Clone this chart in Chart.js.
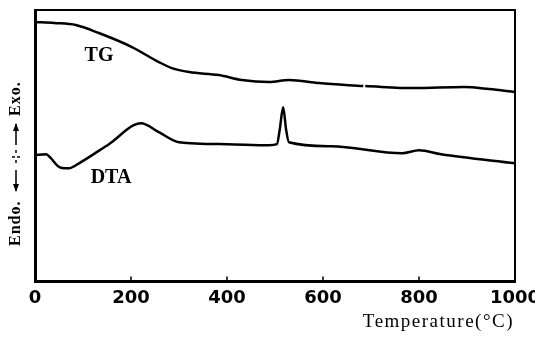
<!DOCTYPE html>
<html>
<head>
<meta charset="utf-8">
<script src="https://cdn.jsdelivr.net/npm/chart.js@4/dist/chart.umd.min.js"></script>
<style>
  html, body { margin: 0; padding: 0; background: #fff; }
  #wrap { width: 535px; height: 338px; }
</style>
</head>
<body>
<div id="wrap"><canvas id="c" width="535" height="338"></canvas></div>
<script>
// --- DATA (signal in arbitrary units) ---
const tgTemp   = [0, 40, 85, 133, 202, 258, 285, 321, 383, 431, 488, 529, 592, 684, 686, 688, 790, 894, 946, 1000];
const tgSignal = [257, 256, 254, 246, 232, 217, 211, 207, 204, 199, 197, 199, 196, 193, null, 193, 191, 192, 190, 187];

const dtaTemp   = [0, 23, 33, 48, 60, 72, 85, 154, 221, 258, 300, 400, 488, 504, 510, 517, 523, 529, 617, 765, 800, 846, 1000];
const dtaSignal = [124, 125, 121, 113, 111, 111, 114, 135, 156, 147, 137, 135, 134, 135, 150, 172, 150, 137, 133, 126, 129, 125, 116];

const xTicks = [0, 200, 400, 600, 800, 1000];

const toPoints = (xs, ys) => xs.map((x, i) => ({ x: x, y: ys[i] }));

// --- extra drawing: frame, inward ticks, curve labels, axis texts ---
const decor = {
    id: 'decor',
    afterDraw(chart) {
        const ctx = chart.ctx;
        const a = chart.chartArea;
        const xs = chart.scales.x;
        ctx.save();
        ctx.strokeStyle = '#000';

        // top + right frame
        ctx.lineWidth = 2;
        ctx.beginPath();
        ctx.moveTo(a.left, a.top);
        ctx.lineTo(a.right, a.top);
        ctx.lineTo(a.right, a.bottom);
        ctx.stroke();

        // inward ticks on bottom axis
        ctx.lineWidth = 1.5;
        xTicks.slice(1, -1).forEach(v => {
            const px = xs.getPixelForValue(v);
            ctx.beginPath();
            ctx.moveTo(px, a.bottom);
            ctx.lineTo(px, a.bottom - 5);
            ctx.stroke();
        });

        // curve labels
        ctx.fillStyle = '#000';
        ctx.font = 'bold 20px "Liberation Serif"';
        ctx.textAlign = 'center';
        ctx.textBaseline = 'middle';
        ctx.fillText('TG', 99, 56);
        ctx.fillText('DTA', 111, 178);

        // x title
        ctx.font = '19px "Liberation Serif"';
        ctx.letterSpacing = '1.5px';
        ctx.textAlign = 'right';
        ctx.fillText('Temperature(°C)', 514, 322);
        ctx.letterSpacing = '0px';

        // left Endo / Exo label
        ctx.translate(16, 165);
        ctx.rotate(-Math.PI / 2);
        ctx.font = 'bold 16px "Liberation Serif"';
        ctx.letterSpacing = '1px';
        ctx.textAlign = 'left';
        ctx.fillText('Endo.', -81, 0);
        ctx.fillText('Exo.', 49, 0);
        ctx.letterSpacing = '0px';
        ctx.lineWidth = 1.5;
        ctx.beginPath();
        ctx.moveTo(-26, 0); ctx.lineTo(-5, 0);
        ctx.moveTo(2, 0); ctx.lineTo(5, 0);
        ctx.moveTo(12, 0); ctx.lineTo(15, 0);
        ctx.moveTo(20, 0); ctx.lineTo(41, 0);
        ctx.moveTo(8, -4); ctx.lineTo(8, -1);
        ctx.moveTo(8, 1); ctx.lineTo(8, 4);
        ctx.stroke();
        ctx.beginPath();
        ctx.moveTo(-27, 0); ctx.lineTo(-19, -3); ctx.lineTo(-19, 3); ctx.closePath();
        ctx.moveTo(42, 0); ctx.lineTo(34, -3); ctx.lineTo(34, 3); ctx.closePath();
        ctx.fill();
        ctx.restore();
    }
};

const lineStyle = {
    borderColor: '#000',
    borderWidth: 2.5,
    pointRadius: 0,
    fill: false,
    cubicInterpolationMode: 'monotone',
    spanGaps: false
};

new Chart(document.getElementById('c').getContext('2d'), {
    type: 'line',
    data: {
        datasets: [
            Object.assign({ label: 'TG', data: toPoints(tgTemp, tgSignal) }, lineStyle),
            Object.assign({ label: 'DTA', data: toPoints(dtaTemp, dtaSignal) }, lineStyle)
        ]
    },
    options: {
        responsive: false,
        animation: false,
        events: [],
        layout: { padding: { left: 35, right: 20, top: 10, bottom: 31 } },
        plugins: {
            legend: { display: false },
            tooltip: { enabled: false }
        },
        scales: {
            x: {
                type: 'linear',
                min: 0,
                max: 1000,
                afterBuildTicks: scale => { scale.ticks = xTicks.map(v => ({ value: v })); },
                afterFit: scale => { scale.paddingLeft = 0; scale.paddingRight = 0; },
                grid: { display: false },
                border: { display: true, color: '#000', width: 3 },
                ticks: {
                    color: '#000',
                    padding: -2,
                    maxRotation: 0,
                    callback: v => String(v),
                    font: { family: '"DejaVu Sans"', size: 18, weight: 'bold' }
                }
            },
            y: {
                min: -2,
                max: 269,
                afterFit: scale => { scale.width = 0; },
                grid: { display: false },
                ticks: { display: false },
                border: { display: true, color: '#000', width: 3 }
            }
        }
    },
    plugins: [decor]
});
</script>
</body>
</html>
